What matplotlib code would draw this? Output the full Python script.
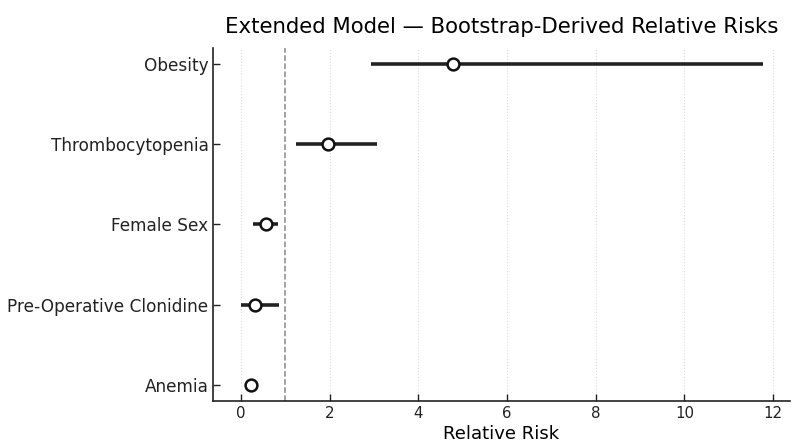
import matplotlib
matplotlib.use("Agg")
import matplotlib.pyplot as plt
import numpy as np

categories = ["Obesity", "Thrombocytopenia", "Female Sex", "Pre-Operative Clonidine", "Anemia"]
rr = [4.78, 1.96, 0.57, 0.33, 0.22]
ci_low = [2.93, 1.25, 0.27, 0.0, 0.12]
ci_high = [11.77, 3.07, 0.84, 0.86, 0.35]
xticks = [0, 2, 4, 6, 8, 10, 12]

fig = plt.figure(figsize=(7.96, 4.47), dpi=100)
ax = fig.add_axes([0.268, 0.103, 0.724, 0.79])

n = len(categories)
ypos = np.arange(n)[::-1]
for y, lo, hi in zip(ypos, ci_low, ci_high):
    ax.plot([lo, hi], [y, y], color="#222222", lw=2.6, solid_capstyle="butt", zorder=2)
ax.plot(rr, ypos, "o", ms=8.5, mfc="white", mec="#111111", mew=1.8, zorder=3)
ax.axvline(1, color="#888888", ls="--", lw=1.1, zorder=1)

ax.set_yticks(ypos)
ax.set_yticklabels(categories, fontsize=12.2)
ax.set_xticks(xticks)
ax.set_xticklabels([str(t) for t in xticks], fontsize=10.8)
ax.set_xlim(-0.62, 12.37)
ax.set_ylim(-0.2, 4.2)
ax.grid(axis="x", ls=":", color="#dddddd", lw=0.8)
ax.set_axisbelow(True)
ax.tick_params(direction="in", length=5, width=1, colors="#222222")
for s in ["top", "right"]:
    ax.spines[s].set_visible(False)
for s in ["left", "bottom"]:
    ax.spines[s].set_color("#222222")
    ax.spines[s].set_linewidth(1.2)
ax.set_xlabel("Relative Risk", fontsize=13, labelpad=3)
ax.set_title("Extended Model \u2014 Bootstrap-Derived Relative Risks", fontsize=15.3, pad=11)

fig.savefig("out.png", dpi=100)
